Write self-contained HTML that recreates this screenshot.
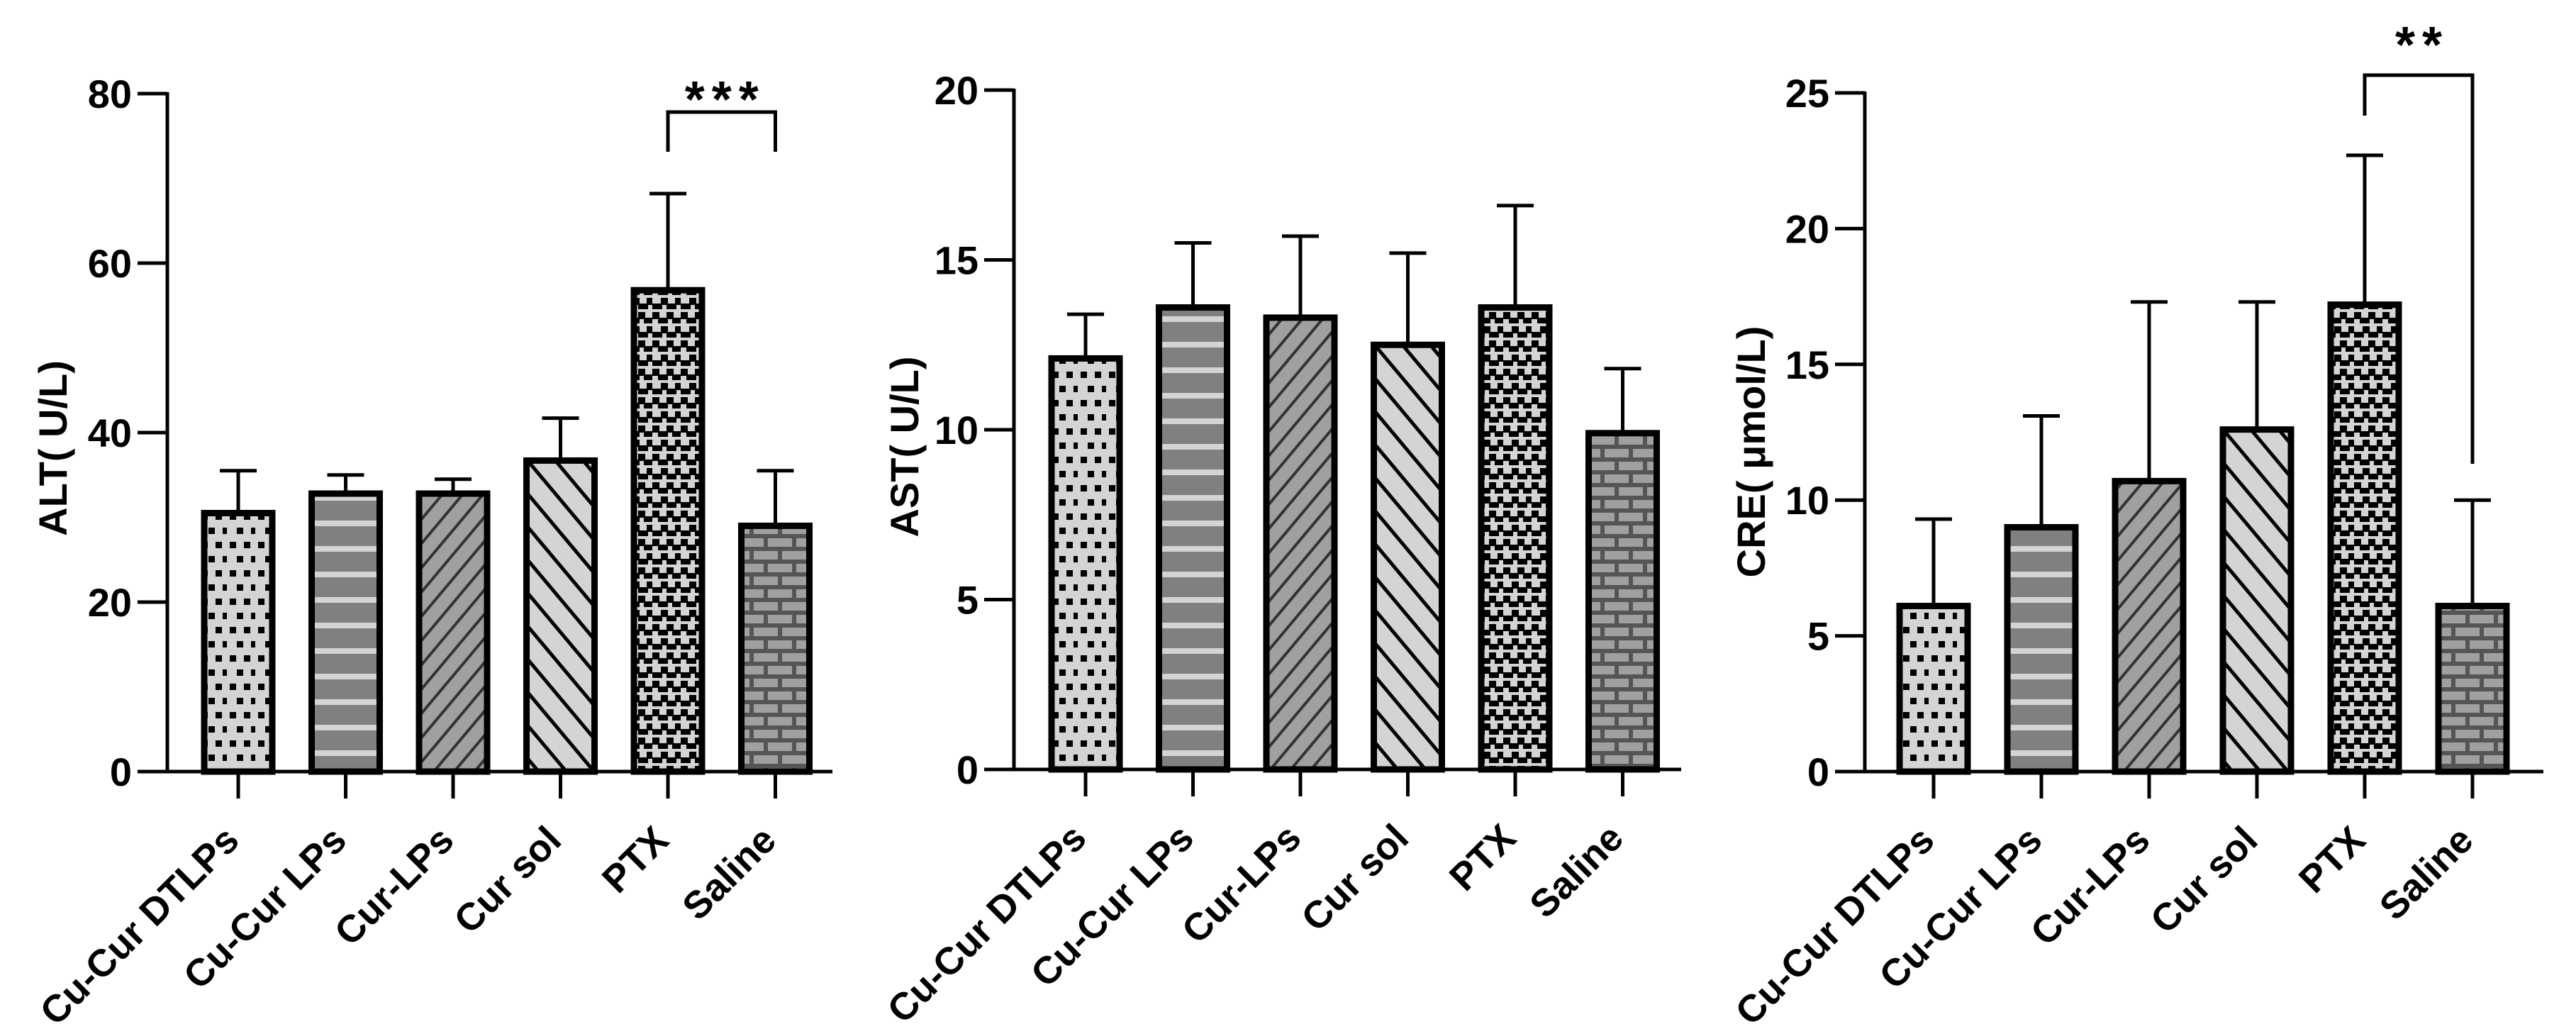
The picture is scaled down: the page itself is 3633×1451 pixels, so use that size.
<!DOCTYPE html>
<html><head><meta charset="utf-8"><style>
html,body{margin:0;padding:0;background:#fff;}
svg{display:block;font-family:"Liberation Sans","Noto Sans CJK SC",sans-serif;font-weight:bold;}
</style></head><body>
<svg id="chart" width="3633" height="1451" viewBox="0 0 3633 1451" xmlns="http://www.w3.org/2000/svg">
<defs>
 <pattern id="p-dots" patternUnits="userSpaceOnUse" width="40" height="40">
  <rect width="40" height="40" fill="#d4d4d4"/>
  <rect x="4" y="4" width="9" height="9" fill="#000"/><rect x="24" y="4" width="9" height="9" fill="#000"/>
  <rect x="14" y="24" width="9" height="9" fill="#000"/><rect x="34" y="24" width="9" height="9" fill="#000"/>
 </pattern>
 <pattern id="p-hstripe" patternUnits="userSpaceOnUse" width="40" height="36">
  <rect width="40" height="36" fill="#808080"/><rect y="14" width="40" height="8" fill="#d4d4d4"/>
 </pattern>
 <pattern id="p-fdiag" patternUnits="userSpaceOnUse" width="22" height="22" patternTransform="rotate(40)">
  <rect width="22" height="22" fill="#a0a0a0"/><rect x="0" width="4" height="22" fill="#333"/>
 </pattern>
 <pattern id="p-bdiag" patternUnits="userSpaceOnUse" width="30" height="30" patternTransform="rotate(-40)">
  <rect width="30" height="30" fill="#d4d4d4"/><rect x="0" width="5" height="30" fill="#000"/>
 </pattern>
 <pattern id="p-ptx" patternUnits="userSpaceOnUse" width="40" height="40">
  <rect width="40" height="40" fill="#d4d4d4"/>
  <rect x="0" y="0" width="10" height="10" fill="#000"/><rect x="20" y="0" width="10" height="10" fill="#000"/>
  <rect x="8" y="8" width="14" height="8" fill="#000"/><rect x="28" y="8" width="14" height="8" fill="#000"/>
  <rect x="12" y="20" width="10" height="10" fill="#000"/><rect x="32" y="20" width="10" height="10" fill="#000"/>
  <rect x="0" y="28" width="14" height="8" fill="#000"/><rect x="20" y="28" width="14" height="8" fill="#000"/>
 </pattern>
 <pattern id="p-brick" patternUnits="userSpaceOnUse" width="40" height="36">
  <rect width="40" height="36" fill="#555"/>
  <rect x="3" y="3" width="34" height="12" fill="#a0a0a0"/>
  <rect x="-17" y="21" width="34" height="12" fill="#a0a0a0"/><rect x="23" y="21" width="34" height="12" fill="#a0a0a0"/>
 </pattern>
</defs>
</svg>
<script>
const categories = ["Cu-Cur DTLPs","Cu-Cur LPs","Cur-LPs","Cur sol","PTX","Saline"];
const altValues = [30.5, 32.8, 32.8, 36.7, 56.8, 29.0];
const altErrors = [35.5, 35.0, 34.5, 41.7, 68.2, 35.5];
const astValues = [12.1, 13.6, 13.3, 12.5, 13.6, 9.9];
const astErrors = [13.4, 15.5, 15.7, 15.2, 16.6, 11.8];
const creValues = [6.1, 9.0, 10.7, 12.6, 17.2, 6.1];
const creErrors = [9.3, 13.1, 17.3, 17.3, 22.7, 10.0];
const altTicks = [0, 20, 40, 60, 80];
const astTicks = [0, 5, 10, 15, 20];
const creTicks = [0, 5, 10, 15, 20, 25];

const NS = "http://www.w3.org/2000/svg";
const svg = document.getElementById("chart");
const fills = ["url(#p-dots)","url(#p-hstripe)","url(#p-fdiag)","url(#p-bdiag)","url(#p-ptx)","url(#p-brick)"];
function mk(tag, attrs, parent){const e=document.createElementNS(NS,tag);for(const k in attrs)e.setAttribute(k,attrs[k]);(parent||svg).appendChild(e);return e;}

function panel(cfg){
  const g = mk("g",{});
  
  
  const ymax = cfg.ticks[cfg.ticks.length-1];
  const y = v => cfg.y0 - (v/ymax)*(cfg.y0-cfg.yTop);
  const x = i => cfg.x0 + cfg.step*i;
  const ya = mk("line",{x1:cfg.ax,y1:y(ymax)-2,x2:cfg.ax,y2:cfg.y0+2,stroke:"#000","stroke-width":5},g);
  
  
  cfg.ticks.forEach(t=>{
    mk("line",{x1:cfg.ax-42,y1:y(t),x2:cfg.ax,y2:y(t),stroke:"#000","stroke-width":5},g);
    const tl = mk("text",{x:cfg.ax-50,y:y(t)+20,"text-anchor":"end","font-size":56},g);
    tl.textContent = t;
    
    
  });
  const yt = mk("text",{x:0,y:0,"text-anchor":"middle","font-size":56,transform:`translate(${cfg.titleX},${cfg.titleY}) rotate(-90)`},g);
  yt.textContent = cfg.title;
  
  
  categories.forEach((c,i)=>{
    const cx = x(i), top = y(cfg.vals[i]), w = 96;
    const eb = mk("line",{x1:cx,y1:y(cfg.errs[i]),x2:cx,y2:top,stroke:"#000","stroke-width":5},g);
    
    
    const cap = mk("line",{x1:cx-26,y1:y(cfg.errs[i]),x2:cx+26,y2:y(cfg.errs[i]),stroke:"#000","stroke-width":5},g);
    
    
    const b = mk("rect",{x:cx-w/2,y:top,width:w,height:cfg.y0-top,fill:fills[i],stroke:"#000","stroke-width":9},g);
    
    
    mk("line",{x1:cx,y1:cfg.y0,x2:cx,y2:cfg.y0+38,stroke:"#000","stroke-width":5},g);
    const cl = mk("text",{x:0,y:0,"text-anchor":"end","font-size":54,transform:`translate(${cx+4},${cfg.y0+100}) rotate(-45)`},g);
    cl.textContent = c;
    
    
  });
  const xa = mk("line",{x1:cfg.ax-2,y1:cfg.y0,x2:cfg.xEnd,y2:cfg.y0,stroke:"#000","stroke-width":5},g);
  
  
  if(cfg.sig){
    const s = cfg.sig;
    const br = mk("polyline",{points:`${x(4)},${s.l} ${x(4)},${s.top} ${x(5)},${s.top} ${x(5)},${s.r}`,fill:"none",stroke:"#000","stroke-width":5},g);
    
    
    const st = mk("text",{x:(x(4)+x(5))/2+5,y:s.starY,"text-anchor":"middle","font-size":72,"letter-spacing":"10"},g);
    st.textContent = s.text;
    
    
  }
}

panel({name:"alt-panel",title:"ALT( U/L)",vals:altValues,errs:altErrors,ticks:altTicks,ax:236,y0:1088,yTop:132,x0:336,step:151.5,xEnd:1174,titleX:94,titleY:632,sig:{top:158,l:214,r:214,starY:165,text:"***"}});
panel({name:"ast-panel",title:"AST( U/L)",vals:astValues,errs:astErrors,ticks:astTicks,ax:1430,y0:1085,yTop:127,x0:1531,step:151.5,xEnd:2371,titleX:1295,titleY:630});
panel({name:"cre-panel",title:"CRE( μmol/L)",vals:creValues,errs:creErrors,ticks:creTicks,ax:2630,y0:1088,yTop:131,x0:2727,step:152,xEnd:3587,titleX:2489,titleY:637,sig:{top:106,l:163,r:654,starY:88,text:"**"}});
</script>
</body></html>
